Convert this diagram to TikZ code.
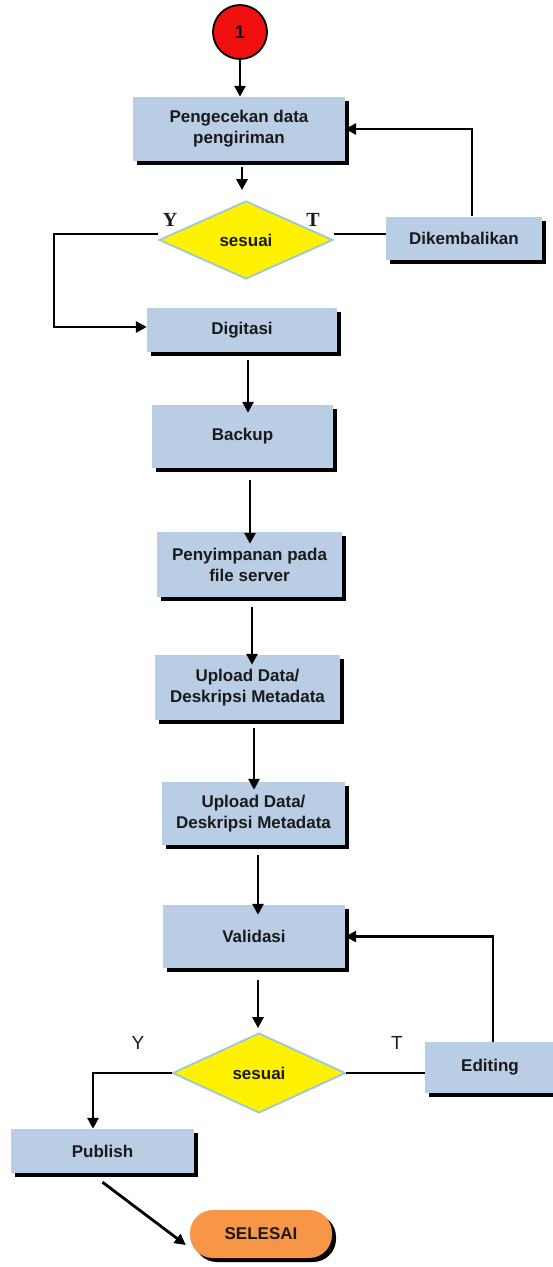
\documentclass[tikz,border=0pt]{standalone}
\usepackage{fontspec}
\setmainfont{Liberation Sans}
\newfontfamily\labfont{Liberation Serif}
\usetikzlibrary{shapes.geometric,shadows,arrows.meta,calc}
\definecolor{boxblue}{HTML}{B9CDE5}
\definecolor{diaedge}{HTML}{9CC8D8}
\definecolor{startred}{HTML}{F01010}
\definecolor{endorange}{HTML}{F79646}
\definecolor{txt}{HTML}{1A1A1A}
\begin{document}
\begin{tikzpicture}[x=1pt,y=-1pt,
  blackshadow/.style={drop shadow={shadow xshift=4pt,shadow yshift=-4pt,fill=black,opacity=1}},
  proc/.style={rectangle,draw=none,fill=boxblue,blackshadow,align=center,inner sep=0pt,
    text=txt,font=\fontsize{17}{21}\selectfont\bfseries},
  dec/.style={diamond,fill=yellow,draw=diaedge,line width=1.8pt,inner sep=0pt,
    text=txt,font=\fontsize{17}{21}\selectfont\bfseries},
  arr/.style={line width=2.8pt,-{Triangle[length=11pt,width=11pt]}},
  ln/.style={line width=2.8pt},
  serlab/.style={font=\labfont\fontsize{20}{22}\selectfont\bfseries,text=txt,inner sep=0pt},
  sanslab/.style={font=\fontsize{19}{22}\selectfont,text=txt,inner sep=0pt},
]
\useasboundingbox (0,0) rectangle (553,1267);

% nodes
\node[circle,fill=startred,draw=black,line width=1.8pt,minimum size=54pt,inner sep=0pt,
  font=\fontsize{18}{20}\selectfont\bfseries] (c1) at (240,32) {1};
\node[proc,minimum width=212pt,minimum height=64pt] (b1) at (239,129) {Pengecekan data\\pengiriman};
\node[dec,minimum width=174pt,minimum height=78pt] (d1) at (246,240) {sesuai};
\node[proc,minimum width=156pt,minimum height=43pt] (dik) at (464,238) {Dikembalikan};
\node[proc,minimum width=190pt,minimum height=44pt] (dig) at (242,330) {Digitasi};
\node[proc,minimum width=181pt,minimum height=63pt] (back) at (242.5,436.5) {Backup};
\node[proc,minimum width=185pt,minimum height=65pt] (peny) at (249.5,564.5) {Penyimpanan pada\\file server};
\node[proc,minimum width=185pt,minimum height=65pt] (up1) at (247.5,687.5) {Upload Data/\\Deskripsi Metadata};
\node[proc,minimum width=183pt,minimum height=63pt] (up2) at (253.5,813.5) {Upload Data/\\Deskripsi Metadata};
\node[proc,minimum width=182pt,minimum height=63pt] (val) at (254,936.5) {Validasi};
\node[dec,minimum width=173pt,minimum height=80pt] (d2) at (259,1073) {sesuai};
\node[proc,minimum width=130pt,minimum height=51pt] (edit) at (490,1067.5) {Editing};
\node[proc,minimum width=183pt,minimum height=44pt] (pub) at (102.5,1151) {Publish};
\node[rectangle,rounded corners=23pt,fill=endorange,blackshadow,minimum width=142pt,minimum height=48pt,
  inner sep=0pt,text=txt,font=\fontsize{17}{21}\selectfont\bfseries] (sel) at (261,1234) {SELESAI};

% labels
\node[serlab] (y1) at (170,220) {Y};
\node[serlab] (t1) at (313,220) {T};
\node[sanslab] (y2) at (138,1043) {Y};
\node[sanslab] (t2) at (397,1043) {T};

% connectors
\coordinate (yl) at (54,327);
\draw[arr] (c1.south) -- (c1.south |- b1.north);
\draw[arr] ([xshift=3pt,yshift=-6pt]b1.south) -- ([xshift=-4pt,yshift=10pt]d1.north);
\draw[ln] ([yshift=6pt]d1.east) -- ([yshift=6pt]d1.east -| dik.west);
\draw[arr] ([xshift=8pt]dik.north) |- (b1.east);
\draw[arr] ([yshift=6pt]d1.west) -| (yl) -- (yl -| dig.west);
\draw[arr] ([xshift=6pt,yshift=-8pt]dig.south) -- ([xshift=6pt,yshift=-8pt]dig.south |- back.north);
\draw[arr] ([xshift=7.5pt,yshift=-12pt]back.south) -- ([xshift=7.5pt,yshift=-12pt]back.south |- peny.north);
\draw[arr] ([xshift=2.5pt,yshift=-10pt]peny.south) -- ([xshift=2.5pt,yshift=-10pt]peny.south |- up1.north);
\draw[arr] ([xshift=6.5pt,yshift=-8pt]up1.south) -- ([xshift=6.5pt,yshift=-8pt]up1.south |- up2.north);
\draw[arr] ([xshift=4.5pt,yshift=-10pt]up2.south) -- ([xshift=4.5pt,yshift=-10pt]up2.south |- val.north);
\draw[arr] ([xshift=4pt,yshift=-12pt]val.south) -- ([xshift=-1pt,yshift=4pt]d2.north);
\draw[ln] (d2.east) -- (d2.east -| edit.west);
\draw[arr] ([xshift=3pt]edit.north) |- (val.east);
\draw[arr] (d2.west) -| ([xshift=-9.5pt]pub.north);
\draw[arr] ([yshift=-9pt]pub.south) -- ([xshift=-4pt,yshift=-11pt]sel.west);
\end{tikzpicture}
\end{document}
